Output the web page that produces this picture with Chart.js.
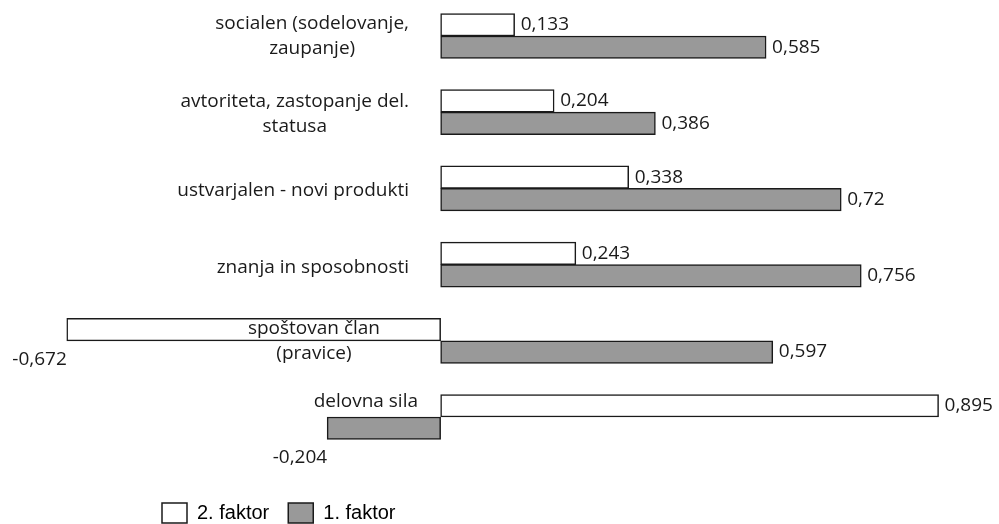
<!DOCTYPE html>
<html>
<head>
<meta charset="utf-8">
<script src="https://cdn.jsdelivr.net/npm/chart.js@4.4.1/dist/chart.umd.min.js"></script>
<style>
  html, body { margin: 0; padding: 0; background: #fff; }
  #wrap { width: 999px; height: 524px; position: relative; }
</style>
</head>
<body>
<div id="wrap"><canvas id="factorChart"></canvas></div>
<script>
// data
const categories = [
    ['socialen (sodelovanje,', 'zaupanje)'],
    ['avtoriteta, zastopanje del.', 'statusa'],
    ['ustvarjalen - novi produkti'],
    ['znanja in sposobnosti'],
    ['spoštovan član', '(pravice)'],
    ['delovna sila']
];
const seriesNames = ['2. faktor', '1. faktor'];
const faktor2 = [0.133, 0.204, 0.338, 0.243, -0.672, 0.895];
const faktor1 = [0.585, 0.386, 0.72, 0.756, 0.597, -0.204];

// label placement tweaks (x, y) per category, pixels
const labelNudge = [[0, 0], [0, 2], [0, 2], [0, 3], [-29, 0], [9, -15]];

const textFont = '19px "Open Sans"';

const fmt = v => String(v).replace('.', ',');

// value labels next to bar ends
const valueLabels = {
    id: 'valueLabels',
    afterDatasetsDraw(chart) {
        const ctx = chart.ctx;
        ctx.save();
        ctx.font = textFont;
        ctx.fillStyle = '#1a1a1a';
        chart.data.datasets.forEach((ds, di) => {
            const meta = chart.getDatasetMeta(di);
            meta.data.forEach((bar, i) => {
                const v = ds.data[i];
                if (v >= 0) {
                    ctx.textAlign = 'left';
                    ctx.textBaseline = 'middle';
                    ctx.fillText(fmt(v), bar.x + 6, bar.y);
                } else {
                    ctx.textAlign = 'right';
                    ctx.textBaseline = 'top';
                    ctx.fillText(fmt(v), bar.x, bar.y + bar.height / 2 + 9);
                }
            });
        });
        ctx.restore();
    }
};

// category labels, lines centred in a block whose right edge sits left of the zero line
const categoryLabels = {
    id: 'categoryLabels',
    afterDatasetsDraw(chart) {
        const ctx = chart.ctx;
        const yScale = chart.scales.y;
        const right = 409;
        ctx.save();
        ctx.font = textFont;
        ctx.fillStyle = '#1a1a1a';
        ctx.textAlign = 'center';
        ctx.textBaseline = 'middle';
        categories.forEach((lines, i) => {
            const cy = yScale.getPixelForValue(i) + labelNudge[i][1];
            const w = Math.max(...lines.map(l => ctx.measureText(l).width));
            const cx = right - w / 2 + labelNudge[i][0];
            const lh = 25;
            const y0 = cy - (lines.length - 1) * lh / 2;
            lines.forEach((l, k) => ctx.fillText(l, cx, y0 + k * lh));
        });
        ctx.restore();
    }
};

// legend takes no room in the layout, then gets moved to the lower left
const moveLegend = {
    id: 'moveLegend',
    beforeLayout(chart) {
        const lg = chart.legend;
        if (lg && !lg._patched) {
            const origFit = lg.fit;
            lg.fit = function () {
                origFit.call(this);
                this._realHeight = this.height;
                this.height = 0;
            };
            lg._patched = true;
        }
    },
    afterLayout(chart) {
        const lg = chart.legend;
        const w = lg.width;
        lg.left = 143;
        lg.right = lg.left + w;
        lg.top = 484;
        lg.bottom = lg.top + lg._realHeight;
    }
};

const ctx = document.getElementById('factorChart').getContext('2d');
const factorChart = new Chart(ctx, {
    type: 'bar',
    data: {
        labels: categories,
        datasets: [
            {
                label: seriesNames[0],
                data: faktor2,
                backgroundColor: '#ffffff',
                borderColor: '#1a1a1a',
                borderWidth: 1.5,
                borderSkipped: false,
                barThickness: 22.5,
                clip: false
            },
            {
                label: seriesNames[1],
                data: faktor1,
                backgroundColor: '#999999',
                borderColor: '#1a1a1a',
                borderWidth: 1.5,
                borderSkipped: false,
                barThickness: 22.5,
                clip: false
            }
        ]
    },
    options: {
        indexAxis: 'y',
        responsive: true,
        maintainAspectRatio: false,
        animation: false,
        layout: { padding: { top: 36, bottom: 107, left: 0, right: 2 } },
        scales: {
            x: { display: false, min: -0.792, max: 1.0 },
            y: { display: false, offset: false, grid: { display: false } }
        },
        plugins: {
            tooltip: { enabled: false },
            legend: {
                position: 'bottom',
                align: 'start',
                labels: {
                    boxWidth: 25,
                    boxHeight: 20,
                    padding: 19,
                    color: '#000',
                    font: { family: '"Liberation Sans", Arial, sans-serif', size: 20 }
                }
            }
        }
    },
    plugins: [valueLabels, categoryLabels, moveLegend]
});
</script>
</body>
</html>
